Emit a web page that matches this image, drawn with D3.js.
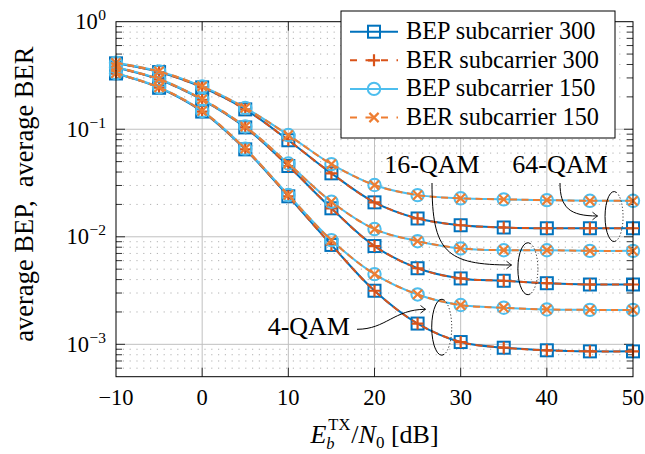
<!DOCTYPE html>
<html>
<head>
<meta charset="utf-8">
<script src="https://cdn.jsdelivr.net/npm/d3@7"></script>
<style>
  body { margin: 0; background: #fff; }
  svg { display: block; }
  text { font-family: "Liberation Serif", "DejaVu Serif", serif; fill: #000; white-space: pre; }
</style>
</head>
<body>
<svg id="chart" width="645" height="454"></svg>
<script>
// Eb/N0 sweep in dB
const snr = [-10, -5, 0, 5, 10, 15, 20, 25, 30, 35, 40, 45, 50];

// Bit error probability (analytical), subcarrier 300
const bep300_qam4  = [0.330, 0.243, 0.146, 0.065, 0.0238, 0.0084, 0.00315, 0.00156, 0.00105, 0.00093, 0.00088, 0.00086, 0.00086];
const bep300_qam16 = [0.375, 0.290, 0.188, 0.104, 0.0455, 0.0184, 0.0082, 0.0051, 0.0041, 0.0039, 0.0037, 0.0036, 0.0036];
const bep300_qam64 = [0.410, 0.340, 0.245, 0.153, 0.079, 0.0389, 0.0209, 0.0148, 0.0128, 0.0122, 0.0120, 0.0120, 0.0120];

// Bit error rate (simulated), subcarrier 300
const ber300_qam4  = [0.330, 0.243, 0.146, 0.065, 0.0238, 0.0084, 0.00315, 0.00156, 0.00105, 0.00093, 0.00088, 0.00086, 0.00086];
const ber300_qam16 = [0.375, 0.290, 0.188, 0.104, 0.0455, 0.0184, 0.0082, 0.0051, 0.0041, 0.0039, 0.0037, 0.0036, 0.0036];
const ber300_qam64 = [0.410, 0.340, 0.245, 0.153, 0.079, 0.0389, 0.0209, 0.0148, 0.0128, 0.0122, 0.0120, 0.0120, 0.0120];

// Bit error probability (analytical), subcarrier 150
const bep150_qam4  = [0.332, 0.245, 0.148, 0.066, 0.0245, 0.0093, 0.0045, 0.00291, 0.00232, 0.00219, 0.00211, 0.00209, 0.00209];
const bep150_qam16 = [0.378, 0.293, 0.190, 0.106, 0.048, 0.0212, 0.0118, 0.0091, 0.0078, 0.0075, 0.0075, 0.0074, 0.0074];
const bep150_qam64 = [0.415, 0.345, 0.250, 0.158, 0.0883, 0.0474, 0.0303, 0.0244, 0.0228, 0.0223, 0.0219, 0.0216, 0.0216];

// Bit error rate (simulated), subcarrier 150
const ber150_qam4  = [0.332, 0.245, 0.148, 0.066, 0.0245, 0.0093, 0.0045, 0.00291, 0.00232, 0.00219, 0.00211, 0.00209, 0.00209];
const ber150_qam16 = [0.378, 0.293, 0.190, 0.106, 0.048, 0.0212, 0.0118, 0.0091, 0.0078, 0.0075, 0.0075, 0.0074, 0.0074];
const ber150_qam64 = [0.415, 0.345, 0.250, 0.158, 0.0883, 0.0474, 0.0303, 0.0244, 0.0228, 0.0223, 0.0219, 0.0216, 0.0216];

const legendLabels = ["BEP subcarrier 300", "BER subcarrier 300", "BEP subcarrier 150", "BER subcarrier 150"];
const xTickValues = [-10, 0, 10, 20, 30, 40, 50];
const yTickExponents = [0, -1, -2, -3];
const modulationLabels = ["4-QAM", "16-QAM", "64-QAM"];

// ---------------------------------------------------------------------------
const svg = d3.select("#chart");
const plot = { left: 116, right: 633, top: 21.7, bottom: 376.7 };

const x = d3.scaleLinear().domain([-10, 50]).range([plot.left, plot.right]);
const y = d3.scaleLog().domain([5e-4, 1]).range([plot.bottom, plot.top]);

const colors = { blue: "#0072BD", red: "#D95319", cyan: "#4DBEEE", orange: "#EE7D31" };

const series = [
  { label: legendLabels[0], color: colors.blue,   dash: null,    marker: "square", curves: [bep300_qam4, bep300_qam16, bep300_qam64] },
  { label: legendLabels[1], color: colors.red,    dash: "7,4.5", marker: "plus",   curves: [ber300_qam4, ber300_qam16, ber300_qam64] },
  { label: legendLabels[2], color: colors.cyan,   dash: null,    marker: "circle", curves: [bep150_qam4, bep150_qam16, bep150_qam64] },
  { label: legendLabels[3], color: colors.orange, dash: "7,4.5", marker: "cross",  curves: [ber150_qam4, ber150_qam16, ber150_qam64] }
];

// ---- grid ----------------------------------------------------------------
const grid = svg.append("g");
const minorVals = [];
for (let e = -4; e <= -1; e++) for (let k = 2; k <= 9; k++) {
  const v = k * Math.pow(10, e);
  if (v > 5e-4 && v < 1) minorVals.push(v);
}
grid.selectAll("line.minor").data(minorVals).join("line")
  .attr("x1", plot.left).attr("x2", plot.right)
  .attr("y1", d => y(d)).attr("y2", d => y(d))
  .attr("stroke", "#a8a8a8").attr("stroke-width", 0.9)
  .attr("stroke-dasharray", "1.2,5.6");

const majorY = yTickExponents.map(e => Math.pow(10, e)).filter(v => v < 1);
grid.selectAll("line.majy").data(majorY).join("line")
  .attr("x1", plot.left).attr("x2", plot.right)
  .attr("y1", d => y(d)).attr("y2", d => y(d))
  .attr("stroke", "#c0c0c0").attr("stroke-width", 1);
grid.selectAll("line.majx").data(xTickValues.filter(v => v > -10 && v < 50)).join("line")
  .attr("y1", plot.top).attr("y2", plot.bottom)
  .attr("x1", d => x(d)).attr("x2", d => x(d))
  .attr("stroke", "#c0c0c0").attr("stroke-width", 1);

// ---- ticks (inward, mirrored) ------------------------------------------
const ticks = svg.append("g").attr("stroke", "#000").attr("stroke-width", 0.8);
minorVals.forEach(v => {
  ticks.append("line").attr("x1", plot.left).attr("x2", plot.left + 6).attr("y1", y(v)).attr("y2", y(v));
  ticks.append("line").attr("x1", plot.right).attr("x2", plot.right - 6).attr("y1", y(v)).attr("y2", y(v));
});
majorY.forEach(v => {
  ticks.append("line").attr("x1", plot.left).attr("x2", plot.left + 9).attr("y1", y(v)).attr("y2", y(v));
  ticks.append("line").attr("x1", plot.right).attr("x2", plot.right - 9).attr("y1", y(v)).attr("y2", y(v));
});
xTickValues.filter(v => v > -10 && v < 50).forEach(v => {
  ticks.append("line").attr("x1", x(v)).attr("x2", x(v)).attr("y1", plot.bottom).attr("y2", plot.bottom - 9);
  ticks.append("line").attr("x1", x(v)).attr("x2", x(v)).attr("y1", plot.top).attr("y2", plot.top + 9);
});

// ---- markers -------------------------------------------------------------
function drawMarker(g, type, cx, cy, color) {
  if (type === "square") {
    g.append("rect").attr("x", cx - 6).attr("y", cy - 6).attr("width", 12).attr("height", 12)
      .attr("fill", "none").attr("stroke", color).attr("stroke-width", 2);
  } else if (type === "circle") {
    g.append("circle").attr("cx", cx).attr("cy", cy).attr("r", 6.2)
      .attr("fill", "none").attr("stroke", color).attr("stroke-width", 2);
  } else if (type === "plus") {
    g.append("path").attr("d", `M${cx - 6},${cy}H${cx + 6}M${cx},${cy - 6}V${cy + 6}`)
      .attr("stroke", color).attr("stroke-width", 2.2).attr("fill", "none");
  } else if (type === "cross") {
    const s = 4.6;
    g.append("path").attr("d", `M${cx - s},${cy - s}L${cx + s},${cy + s}M${cx - s},${cy + s}L${cx + s},${cy - s}`)
      .attr("stroke", color).attr("stroke-width", 2.2).attr("fill", "none");
  }
}

// ---- curves --------------------------------------------------------------
const line = d3.line()
  .x((d, i) => x(snr[i]))
  .y(d => y(d))
  .curve(d3.curveCatmullRom.alpha(0.5));

const curvesG = svg.append("g");
series.forEach(s => {
  s.curves.forEach(vals => {
    const g = curvesG.append("g");
    g.append("path").attr("d", line(vals))
      .attr("fill", "none").attr("stroke", s.color).attr("stroke-width", 2)
      .attr("stroke-dasharray", s.dash);
    vals.forEach((v, i) => drawMarker(g, s.marker, x(snr[i]), y(v), s.color));
  });
});

// ---- frame ---------------------------------------------------------------
svg.append("rect")
  .attr("x", plot.left).attr("y", plot.top)
  .attr("width", plot.right - plot.left).attr("height", plot.bottom - plot.top)
  .attr("fill", "none").attr("stroke", "#000").attr("stroke-width", 1);

// ---- rich text: one <text> with tspans for sub/superscripts -------------
// piece: { t, size, italic, rise (baseline offset, negative = up), stack (start under previous piece), dx }
function richText(parent, pieces, px, py, anchor) {
  const t = parent.append("text").attr("x", px).attr("y", py).attr("text-anchor", anchor);
  let rise = 0, prevWidth = 0;
  pieces.forEach(p => {
    const target = p.rise || 0;
    const ts = t.append("tspan").attr("font-size", p.size)
      .attr("font-style", p.italic ? "italic" : null)
      .attr("dy", target - rise)
      .text(p.t);
    let dx = p.dx || 0;
    if (p.stack) dx -= prevWidth;
    if (dx) ts.attr("dx", dx);
    prevWidth = ts.node().getComputedTextLength();
    rise = target;
  });
  return t;
}

// ---- tick labels ---------------------------------------------------------
const labels = svg.append("g");
xTickValues.forEach(v => {
  labels.append("text").attr("x", x(v)).attr("y", 405).attr("text-anchor", "middle")
    .attr("font-size", 22.5).text(v < 0 ? "\u2212" + Math.abs(v) : String(v));
});
yTickExponents.forEach(e => {
  const exp = e < 0 ? "\u2212" + Math.abs(e) : String(e);
  richText(labels, [
    { t: "10", size: 22.5 },
    { t: exp, size: 15.5, rise: -9, dx: 0.5 }
  ], 106, y(Math.pow(10, e)) + 7.5, "end");
});

// ---- axis titles ---------------------------------------------------------
richText(labels, [
  { t: "E", size: 26, italic: true },
  { t: "b", size: 16.5, italic: true, rise: 5.5 },
  { t: "TX", size: 16.5, rise: -12.8, stack: true, dx: 2 },
  { t: "/", size: 26, dx: 1 },
  { t: "N", size: 26, italic: true },
  { t: "0", size: 17, rise: 5 },
  { t: " [dB]", size: 26 }
], (plot.left + plot.right) / 2, 443, "middle");

svg.append("text")
  .attr("transform", `translate(33,${(plot.top + plot.bottom) / 2 - 5}) rotate(-90)`)
  .attr("text-anchor", "middle").attr("font-size", 26.5)
  .text("average BEP,  average BER");

// ---- annotations: modulation groups ------------------------------------
const ann = svg.append("g");
const defs = svg.append("defs");
defs.append("marker").attr("id", "arrowhead")
  .attr("viewBox", "-6 -5 8 10").attr("refX", 0).attr("refY", 0)
  .attr("markerWidth", 8).attr("markerHeight", 10).attr("markerUnits", "userSpaceOnUse")
  .attr("orient", "auto")
  .append("path").attr("d", "M-5,-3.8 Q-1.2,-0.8 0,0 Q-1.2,0.8 -5,3.8")
  .attr("fill", "none").attr("stroke", "#000").attr("stroke-width", 0.9);

function ring(cx, cy, rx, ry) {
  const p = a => [cx + rx * Math.cos(a * Math.PI / 180), cy + ry * Math.sin(a * Math.PI / 180)];
  const [a1x, a1y] = p(75), [a2x, a2y] = p(285);
  ann.append("path").attr("d", `M${a1x},${a1y}A${rx},${ry} 0 1 1 ${a2x},${a2y}`)
    .attr("fill", "none").attr("stroke", "#000").attr("stroke-width", 1);
  ann.append("path").attr("d", `M${a2x},${a2y}A${rx},${ry} 0 0 1 ${a1x},${a1y}`)
    .attr("fill", "none").attr("stroke", "#000").attr("stroke-width", 1)
    .attr("stroke-dasharray", "1,2.2");
}

// rings enclose the subcarrier 150 / 300 pair of each modulation at high SNR
ring(x(27.8), (y(bep150_qam4[9]) + y(bep300_qam4[9])) / 2 - 0.5, 10, 28);
ring(x(37.8), (y(bep150_qam16[10]) + y(bep300_qam16[10])) / 2 + 2, 10, 26);
ring(x(47.8), (y(bep150_qam64[11]) + y(bep300_qam64[11])) / 2 + 2, 9, 25);

const arrowStyle = sel => sel.attr("fill", "none").attr("stroke", "#000").attr("stroke-width", 1)
  .attr("marker-end", "url(#arrowhead)");

// 4-QAM
ann.append("text").attr("x", 350).attr("y", 335).attr("text-anchor", "end").attr("font-size", 26).text(modulationLabels[0]);
arrowStyle(ann.append("path").attr("d", "M357,329.3 C386,329.3 394,309.3 425.5,309.3"));
// 16-QAM
ann.append("text").attr("x", 432).attr("y", 173).attr("text-anchor", "middle").attr("font-size", 26).text(modulationLabels[1]);
arrowStyle(ann.append("path").attr("d", "M432,183 C432,252 446,265 511.5,265"));
// 64-QAM
ann.append("text").attr("x", 560).attr("y", 173).attr("text-anchor", "middle").attr("font-size", 26).text(modulationLabels[2]);
arrowStyle(ann.append("path").attr("d", "M560,183 C560,208 570,216 597.5,216"));

// ---- legend --------------------------------------------------------------
const legend = svg.append("g");
legend.append("rect").attr("x", 341).attr("y", 11).attr("width", 274).attr("height", 127)
  .attr("fill", "#fff").attr("stroke", "#000").attr("stroke-width", 1);
series.forEach((s, i) => {
  const ly = 31.7 + i * 28.6;
  legend.append("line").attr("x1", 350).attr("x2", 398).attr("y1", ly).attr("y2", ly)
    .attr("stroke", s.color).attr("stroke-width", 2).attr("stroke-dasharray", s.dash ? "7,8.5" : null);
  drawMarker(legend, s.marker, 374, ly, s.color);
  legend.append("text").attr("x", 406).attr("y", ly + 7.5).attr("font-size", 24.3).text(s.label);
});
</script>
</body>
</html>
